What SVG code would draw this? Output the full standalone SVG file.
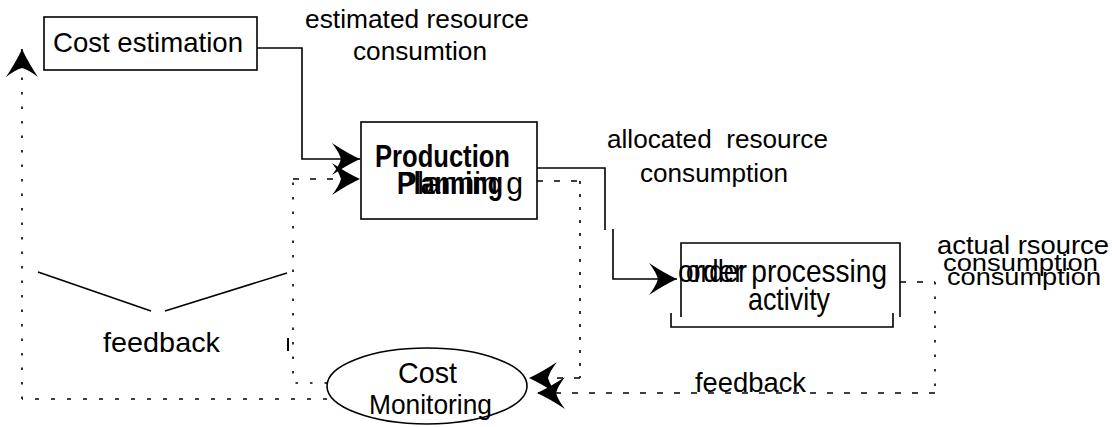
<svg xmlns="http://www.w3.org/2000/svg" width="1112" height="427" viewBox="0 0 1112 427">
  <style>
    .box { fill: #fff; stroke: #000; stroke-width: 1.6; }
    .edge { fill: none; stroke: #000; stroke-width: 1.6; }
    .dash { fill: none; stroke: #000; stroke-width: 1.6; stroke-dasharray: 6 11; }
    .dot { fill: none; stroke: #000; stroke-width: 1.6; stroke-dasharray: 2.5 12; }
    .lbl { font-family: "Liberation Sans", Arial, sans-serif; fill: #000; }
    .bold { font-weight: bold; }
  </style>
  <defs>
    <!-- swallow-tail arrowhead, tip at the path end -->
    <marker id="barb" viewBox="-30 -17 32 34" refX="0" refY="0" markerWidth="32" markerHeight="34" markerUnits="userSpaceOnUse" orient="auto">
      <path d="M0 0 Q-13 -6 -28 -16 Q-21 -7 -19 0 Q-21 7 -28 16 Q-13 6 0 0 Z" fill="#000"/>
    </marker>
  </defs>

  <!-- connectors -->
  <g id="connectors">
    <!-- estimated resource consumption -->
    <path class="edge" d="M257 48 H302 V159 H360" marker-end="url(#barb)"/>
    <!-- feedback from Cost Monitoring into Production Planning -->
    <path class="dot" d="M327 383 H293 V179"/>
    <path class="dash" d="M293 179 H360" marker-end="url(#barb)"/>
    <!-- feedback loop back to Cost estimation -->
    <path class="dash" d="M327 399 H22" style="stroke-dasharray:4 12"/>
    <path class="dot" d="M22 399 V49" marker-end="url(#barb)"/>
    <!-- allocated resource consumption -->
    <path class="edge" d="M537 168 H605 V230"/>
    <path class="edge" d="M613 229 V279 H677" marker-end="url(#barb)"/>
    <!-- Production Planning to Cost Monitoring -->
    <path class="dash" d="M537 181 H580"/>
    <path class="dot" d="M580 181 V378" style="stroke-dasharray:3 10"/>
    <path class="dash" d="M580 378 H529" marker-end="url(#barb)"/>
    <!-- actual consumption feedback -->
    <path class="dash" d="M900 282 H935"/>
    <path class="dot" d="M935 282 V393"/>
    <path class="dash" d="M935 393 H537" marker-end="url(#barb)"/>
    <!-- feedback pointer lines -->
    <path class="edge" d="M38 272 L151 311 M165 311 L287 273"/>
    <path class="edge" d="M288 338 V351" style="stroke-width:2"/>
  </g>

  <g id="cost-estimation">
    <rect class="box" x="44" y="17" width="213" height="53"/>
    <text class="lbl" x="53" y="52" font-size="28" textLength="190" lengthAdjust="spacingAndGlyphs">Cost estimation</text>
  </g>

  <g id="production-planning">
    <rect class="box" x="361" y="122" width="176" height="97"/>
    <text class="lbl bold" x="375" y="167" font-size="31" textLength="135" lengthAdjust="spacingAndGlyphs">Production</text>
    <text class="lbl bold" x="397" y="194" font-size="31" textLength="106" lengthAdjust="spacingAndGlyphs">Planning</text>
    <text class="lbl" x="397" y="194" font-size="31" textLength="126" lengthAdjust="spacingAndGlyphs" xml:space="preserve">Plannin g</text>
  </g>

  <g id="order-processing">
    <path class="edge" d="M681 317 V243 H900 V317"/>
    <path class="edge" d="M671 313 V327 H893 V313"/>
    <text class="lbl" x="678" y="282" font-size="32" textLength="209" lengthAdjust="spacingAndGlyphs">order processing</text>
    <text class="lbl" x="686" y="282" font-size="32" textLength="61" lengthAdjust="spacingAndGlyphs">order</text>
    <text class="lbl" x="748" y="310" font-size="32" textLength="82" lengthAdjust="spacingAndGlyphs">activity</text>
  </g>

  <g id="cost-monitoring">
    <ellipse class="box" cx="427" cy="386" rx="100" ry="38"/>
    <text class="lbl" x="398" y="383" font-size="29" textLength="59" lengthAdjust="spacingAndGlyphs">Cost</text>
    <text class="lbl" x="369" y="414" font-size="28" textLength="123" lengthAdjust="spacingAndGlyphs">Monitoring</text>
  </g>

  <!-- connector labels -->
  <g id="labels">
    <text class="lbl" x="305" y="28" font-size="26" textLength="224" lengthAdjust="spacingAndGlyphs">estimated resource</text>
    <text class="lbl" x="353" y="60" font-size="26" textLength="134" lengthAdjust="spacingAndGlyphs">consumtion</text>
    <text class="lbl" x="607" y="148" font-size="26" textLength="221" lengthAdjust="spacingAndGlyphs" xml:space="preserve">allocated  resource</text>
    <text class="lbl" x="640" y="182" font-size="26" textLength="148" lengthAdjust="spacingAndGlyphs">consumption</text>
    <text class="lbl" x="937" y="254" font-size="25" textLength="172" lengthAdjust="spacingAndGlyphs">actual rsource</text>
    <text class="lbl" x="943" y="271" font-size="24" textLength="155" lengthAdjust="spacingAndGlyphs">consumption</text>
    <text class="lbl" x="947" y="285" font-size="24" textLength="154" lengthAdjust="spacingAndGlyphs">consumption</text>
    <text class="lbl" x="695" y="392" font-size="27" textLength="111" lengthAdjust="spacingAndGlyphs">feedback</text>
    <text class="lbl" x="103" y="352" font-size="28" textLength="117" lengthAdjust="spacingAndGlyphs">feedback</text>
  </g>
</svg>
